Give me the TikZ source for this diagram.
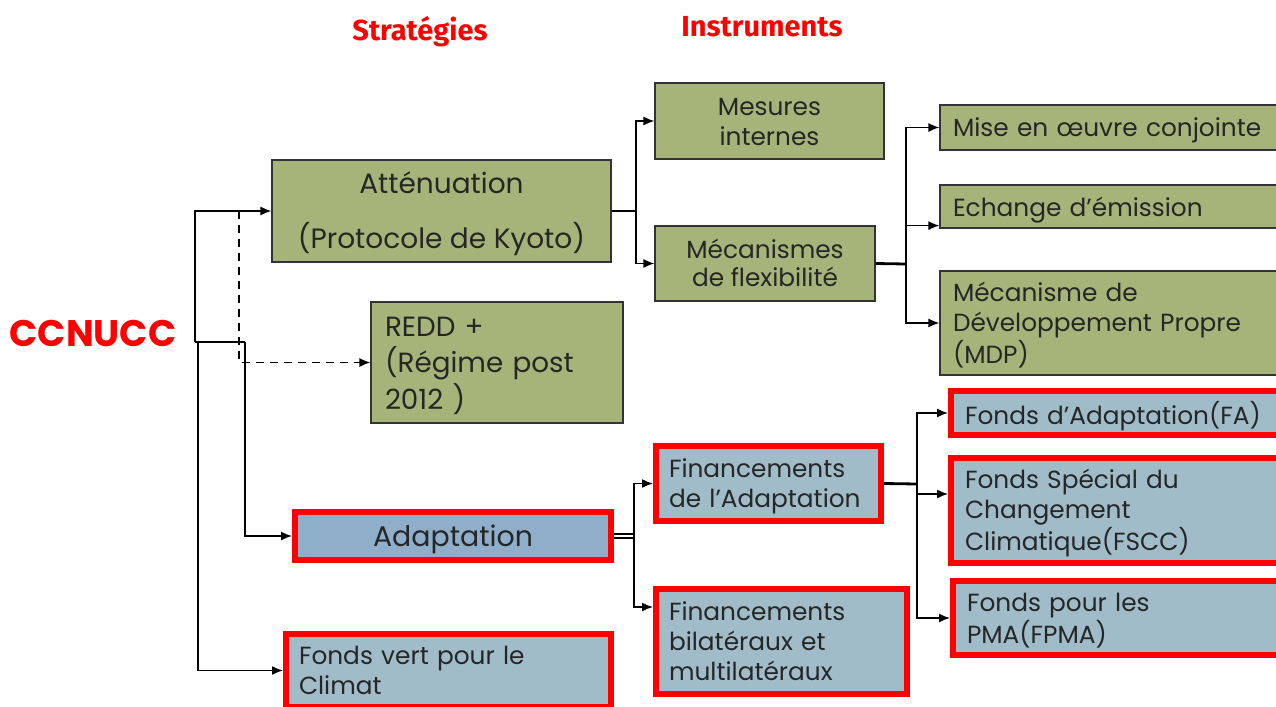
\documentclass[tikz,border=0pt]{standalone}
\usepackage{fontspec}
\setmainfont{Poppins}
\newfontfamily\titlefont{Fira Sans}
\newfontfamily\bigfont{Poppins}
\usetikzlibrary{arrows.meta,calc}
\definecolor{gfill}{RGB}{166,180,122}
\definecolor{bfill}{RGB}{160,188,200}
\definecolor{afill}{RGB}{143,174,202}
\definecolor{redc}{RGB}{255,0,0}
\newcommand\lowr[2][1.6pt]{\raisebox{-#1}[\height][\depth]{#2}}
\newcommand\tabl[1]{\lowr{\begin{tabular}{@{}l@{}}#1\end{tabular}}}
\newcommand\tabc[1]{\lowr{\begin{tabular}{@{}c@{}}#1\end{tabular}}}
\begin{document}
\begin{tikzpicture}[x=0.5pt,y=-0.5pt,
  gbox/.style={draw=black!80,line width=0.6pt,fill=gfill,inner sep=0pt,text=black!85},
  rbox/.style={draw=redc,line width=3pt,fill=bfill,inner sep=0pt,text=black!85},
  fnt/.style={font=\fontsize{12.4}{15}\selectfont},
  title/.style={text=redc,font=\titlefont\bfseries\fontsize{14.5}{16}\selectfont},
  conn/.style={line width=0.7pt},
  arr/.style={conn,-{Latex[length=5.5pt,width=4.5pt]}}]
\useasboundingbox (0,0) rectangle (1276,707);
\clip (0,0) rectangle (1276,707);
% titles
\node[title] (tstrat) at (420,32) {Stratégies};
\node[title] (tinst) at (762,27) {Instruments};
\node[text=redc,font=\bigfont\bfseries\fontsize{18.5}{22}\selectfont] (ccnucc) at (93,333) {CCNUCC};
% strategy boxes
\node[gbox,minimum width=169.5pt,minimum height=51pt,align=center,font=\fontsize{14}{17}\selectfont] (att) at (441.5,211) {\tabc{Atténuation\\[9.5pt](Protocole de Kyoto)}};
\node[gbox,minimum width=126pt,minimum height=60.5pt,align=left,text width=112pt,inner xsep=7pt,font=\fontsize{13.9}{17.5}\selectfont] (redd) at (497,362.5) {\tabl{REDD +\\(Régime post\\2012 )}};
\node[rbox,fill=afill,minimum width=158pt,minimum height=24pt,align=center,font=\fontsize{14.2}{16}\selectfont] (adapt) at (453,536) {\lowr{Adaptation}};
\node[rbox,fnt,minimum width=162.5pt,minimum height=36.5pt,align=left,text width=149.5pt,inner xsep=6.5pt] (fvert) at (448.5,670.5) {\tabl{Fonds vert pour le\\Climat}};
% instruments
\node[gbox,fnt,minimum width=114.5pt,minimum height=38pt,align=center] (mes) at (769.5,121) {\tabc{Mesures\\internes}};
\node[gbox,minimum width=110pt,minimum height=37.5pt,align=center,font=\fontsize{12.4}{14}\selectfont] (meca) at (765,263.5) {\tabc{Mécanismes\\de flexibilité}};
\node[gbox,fnt,minimum width=170pt,minimum height=22.5pt,align=left,text width=157pt,inner xsep=6.5pt] (mise) at (1110,127.5) {\lowr{Mise en œuvre conjointe}};
\node[gbox,fnt,minimum width=170pt,minimum height=21.5pt,align=left,text width=157pt,inner xsep=6.5pt] (ech) at (1110,206.5) {\lowr{Echange d’émission}};
\node[gbox,fnt,minimum width=170pt,minimum height=52pt,align=left,text width=157pt,inner xsep=6.5pt] (mdp) at (1110,323) {\tabl{Mécanisme de\\Développement Propre\\(MDP)}};
\node[rbox,fnt,minimum width=112.5pt,minimum height=37.5pt,align=left,text width=99.5pt,inner xsep=6.5pt] (finad) at (768.5,483.5) {\tabl{Financements\\de l’Adaptation}};
\node[rbox,fnt,minimum width=125.5pt,minimum height=52.5pt,align=left,text width=112.5pt,inner xsep=6.5pt] (finbi) at (781.5,641.5) {\tabl{Financements\\bilatéraux et\\multilatéraux}};
\node[rbox,fnt,minimum width=165.5pt,minimum height=22pt,align=left,text width=151.5pt,inner xsep=7pt] (fa) at (1116.5,413) {\lowr{Fonds d’Adaptation(FA)}};
\node[rbox,fnt,minimum width=165.5pt,minimum height=52.5pt,align=left,text width=151.5pt,inner xsep=7pt] (fscc) at (1116.5,510.5) {\tabl{Fonds Spécial du\\Changement\\Climatique(FSCC)}};
\node[rbox,fnt,minimum width=164.5pt,minimum height=37pt,align=left,text width=150.5pt,inner xsep=7pt] (fpma) at (1117.5,618) {\tabl{Fonds pour les\\PMA(FPMA)}};
% CCNUCC connectors
\coordinate (tr) at (195,342);
\coordinate (tr2) at (245,342);
\coordinate (tr3) at (198,342);
\coordinate (dsh) at (239,211);
\draw[arr] (tr) |- (att.west);
\draw[conn] (tr) -- (tr2);
\draw[arr] (tr2) |- (adapt.west);
\draw[arr] (tr3) |- (fvert.west);
\draw[arr,dash pattern=on 4pt off 3pt] (dsh) |- (redd.west);
% attenuation connectors
\coordinate (aj) at (636,211);
\draw[conn] (att.east) -- (aj);
\draw[arr] (aj) |- (mes.west);
\draw[arr] (aj) |- (meca.west);
% flexibility connectors
\coordinate (mj) at (906,264);
\draw[conn,line width=1.4pt] (meca.east) -- (mj);
\draw[arr] (mj) |- (mise.west);
\draw[arr] (mj) |- ($(ech.south west)+(0,-3)$);
\draw[arr] (mj) |- (mdp.west);
% adaptation connectors
\coordinate (adj) at (634,534);
\draw[conn] ($(adapt.east)+(0,-2)$) -- ($(adj)+(0,0)$);
\draw[conn] ($(adapt.east)+(0,2)$) -- ($(adj)+(0,4)$);
\draw[arr] (adj) |- (finad.west);
\draw[arr] (adj) |- ($(finbi.north west)+(0,21)$);
% fund connectors
\coordinate (fj) at (917,484);
\draw[conn,line width=1.4pt] (finad.east) -- (fj);
\draw[arr] (fj) |- (fa.west);
\draw[arr] (fj) |- ($(fscc.north west)+(0,39)$);
\draw[arr] (fj) |- (fpma.west);
\end{tikzpicture}
\end{document}
